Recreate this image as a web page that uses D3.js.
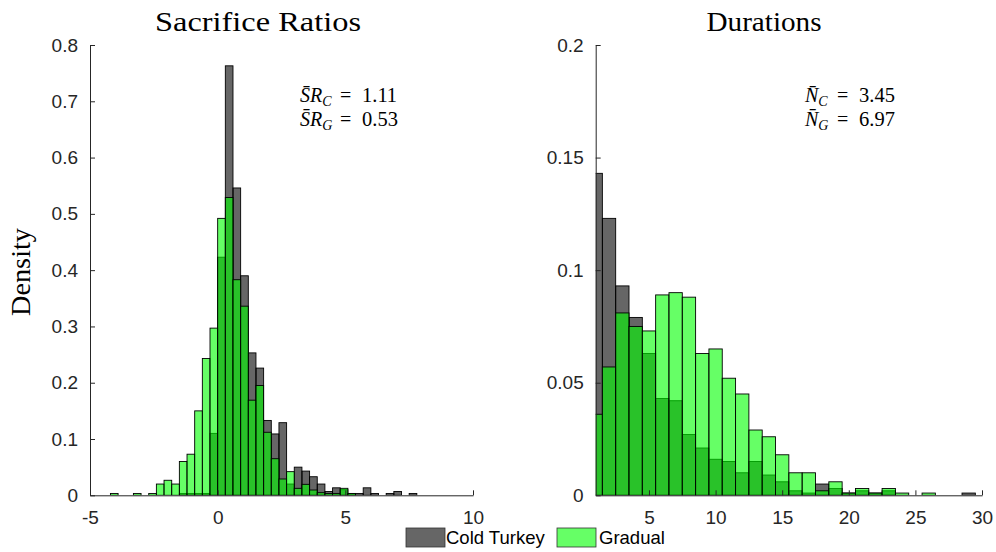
<!DOCTYPE html>
<html><head><meta charset="utf-8">
<script src="https://cdn.jsdelivr.net/npm/d3@7"></script>
<style>body{margin:0;background:#fff;} svg{display:block;}</style>
</head><body>
<svg id="c" width="996" height="552"></svg>
<script>
// ---------------- data ----------------
const seriesNames = ["Cold Turkey", "Gradual"];
const panelTitles = ["Sacrifice Ratios", "Durations"];
const yLabel = "Density";

// Sacrifice ratios: bins of width 0.3 starting at -4.2
const srBinStart = -4.2;
const srBinWidth = 0.3;
const srColdTurkey = [0, 0, 0, 0, 0, 0, 0, 0, 0, 0.0033, 0.0033, 0.0033, 0.0033, 0.110,
  0.423, 0.763, 0.546, 0.390, 0.253, 0.226, 0.133, 0.109, 0.129, 0.020, 0.050, 0.043,
  0.033, 0.020, 0.0067, 0.0133, 0.010, 0.0033, 0.0033, 0.0133, 0.0033, 0, 0.0033, 0.0067, 0, 0.0033];
const srGradual = [0.0033, 0, 0, 0.0033, 0, 0.0033, 0.020, 0.0267, 0.020, 0.060, 0.073, 0.150, 0.243, 0.297,
  0.492, 0.529, 0.383, 0.336, 0.169, 0.195, 0.112, 0.065, 0.029, 0.042, 0.0124, 0.0195,
  0.0094, 0.0047, 0.0033, 0.0033, 0.0124, 0.0033, 0, 0, 0, 0, 0, 0, 0, 0];
const srXTicks = [-5, 0, 5, 10];
const srYTicks = [0, 0.1, 0.2, 0.3, 0.4, 0.5, 0.6, 0.7, 0.8];
const srStats = [["S", "C", "1.11"], ["S", "G", "0.53"]];

// Durations: integer bins centred on 1..29
const durBinStart = 0.5;
const durBinWidth = 1;
const durColdTurkey = [0.143, 0.123, 0.093, 0.079, 0.063, 0.043, 0.042, 0.027, 0.021, 0.016,
  0.015, 0.010, 0.015, 0.009, 0.006, 0.002, 0.001, 0.005, 0.003, 0.001, 0.002, 0.001, 0.002,
  0, 0, 0, 0, 0, 0.001];
const durGradual = [0.036, 0.057, 0.081, 0.075, 0.073, 0.089, 0.090, 0.088, 0.063, 0.065,
  0.052, 0.045, 0.029, 0.026, 0.018, 0.010, 0.010, 0.002, 0.006, 0.001, 0.003, 0.001, 0.003,
  0.001, 0, 0.001, 0, 0, 0];
const durXTicks = [5, 10, 15, 20, 25, 30];
const durYTicks = [0, 0.05, 0.1, 0.15, 0.2];
const durStats = [["N", "C", "3.45"], ["N", "G", "6.97"]];

// ---------------- drawing ----------------
const svg = d3.select("#c");
const axisColor = "#262626";
const sans = "'Liberation Sans', Arial, sans-serif";
const serif = "'Liberation Serif', 'Times New Roman', serif";

const panels = [
  {x0: 90, x1: 473, y0: 45, y1: 495.3, xdom: [-5, 10], ydom: [0, 0.8],
   binStart: srBinStart, binW: srBinWidth, a: srColdTurkey, b: srGradual,
   xticks: srXTicks, yticks: srYTicks, title: panelTitles[0], titleX: 258, titleLen: 206,
   stats: srStats, statX: 300, statSym: "R", eqX: 340, numX: 362},
  {x0: 595.7, x1: 982, y0: 45, y1: 495.3, xdom: [1, 30], ydom: [0, 0.2],
   binStart: durBinStart, binW: durBinWidth, a: durColdTurkey, b: durGradual,
   xticks: durXTicks, yticks: durYTicks, title: panelTitles[1], titleX: 764, titleLen: 115,
   stats: durStats, statX: 805, statSym: "", eqX: 837, numX: 859}
];

panels.forEach((p, pi) => {
  const x = d3.scaleLinear().domain(p.xdom).range([p.x0, p.x1]);
  const y = d3.scaleLinear().domain(p.ydom).range([p.y1, p.y0]);
  const g = svg.append("g");
  const clipId = "clip" + pi;
  svg.append("clipPath").attr("id", clipId).append("rect")
    .attr("x", p.x0).attr("y", p.y0 - 5).attr("width", p.x1 - p.x0).attr("height", p.y1 - p.y0 + 5);

  const bars = g.append("g").attr("clip-path", `url(#${clipId})`);
  const draw = (vals, fill) => {
    const data = vals.map((v, i) => ({lo: p.binStart + i * p.binW, hi: p.binStart + (i + 1) * p.binW, v}))
      .filter(d => d.v > 0);
    bars.append("g").selectAll("rect").data(data).join("rect")
      .attr("x", d => x(d.lo)).attr("width", d => x(d.hi) - x(d.lo))
      .attr("y", d => y(d.v)).attr("height", d => y(0) - y(d.v))
      .attr("fill", fill).attr("fill-opacity", 0.6)
      .attr("stroke", "#000").attr("stroke-width", 0.9);
  };
  draw(p.a, "#000000");
  draw(p.b, "#00ff00");

  // axes (ticks pointing inward)
  const xa = d3.axisBottom(x).tickValues(p.xticks).tickSizeInner(-5).tickSizeOuter(0)
    .tickFormat(d => String(d));
  const gx = g.append("g").attr("transform", `translate(0,${p.y1})`).call(xa);
  const ya = d3.axisLeft(y).tickValues(p.yticks).tickSizeInner(-5).tickSizeOuter(0).tickPadding(12)
    .tickFormat(d => d === 0 ? "0" : String(+d.toFixed(2)));
  const gy = g.append("g").attr("transform", `translate(${p.x0},0)`).call(ya);
  [gx, gy].forEach(a => {
    a.select(".domain").attr("stroke", axisColor).attr("stroke-width", 1);
    a.selectAll(".tick line").attr("stroke", axisColor);
    a.selectAll(".tick text").attr("fill", axisColor).attr("font-family", sans).attr("font-size", 19);
  });
  gx.selectAll(".tick text").attr("dy", "0.71em").attr("y", 15);

  // title
  g.append("text").attr("x", p.titleX).attr("y", 31).attr("text-anchor", "middle")
    .attr("font-family", serif).attr("font-size", 27).attr("fill", "#000")
    .attr("textLength", p.titleLen).attr("lengthAdjust", "spacingAndGlyphs").text(p.title);

  // statistics annotation
  p.stats.forEach((s, si) => {
    const by = 102 + si * 23.5;
    const t = g.append("text").attr("x", p.statX).attr("y", by)
      .attr("font-family", serif).attr("font-size", 20).attr("fill", "#000");
    t.append("tspan").attr("font-style", "italic").text(s[0] + "\u0304" + p.statSym);
    t.append("tspan").attr("font-style", "italic").attr("font-size", 14).attr("dy", 4).text(s[1]);
    g.append("text").attr("x", p.eqX).attr("y", by).attr("font-family", serif).attr("font-size", 20)
      .attr("fill", "#000").text("=");
    g.append("text").attr("x", p.numX).attr("y", by).attr("font-family", serif).attr("font-size", 20.5)
      .attr("fill", "#000").text(s[2]);
  });
});

// y label
svg.append("text").attr("transform", "translate(30,272) rotate(-90)").attr("text-anchor", "middle")
  .attr("font-family", serif).attr("font-size", 27).attr("fill", "#000")
  .attr("textLength", 88).attr("lengthAdjust", "spacingAndGlyphs").text(yLabel);

// legend
const leg = svg.append("g");
const legItems = [
  {name: seriesNames[0], fill: "#000000", rx: 406, tx: 446},
  {name: seriesNames[1], fill: "#00ff00", rx: 557, tx: 599}
];
legItems.forEach(it => {
  leg.append("rect").attr("x", it.rx).attr("y", 528).attr("width", 39).attr("height", 19)
    .attr("fill", it.fill).attr("fill-opacity", 0.6).attr("stroke", "#333").attr("stroke-width", 0.8);
  leg.append("text").attr("x", it.tx).attr("y", 544).attr("font-family", sans).attr("font-size", 18.5)
    .attr("fill", "#000").text(it.name);
});
</script>
</body></html>
